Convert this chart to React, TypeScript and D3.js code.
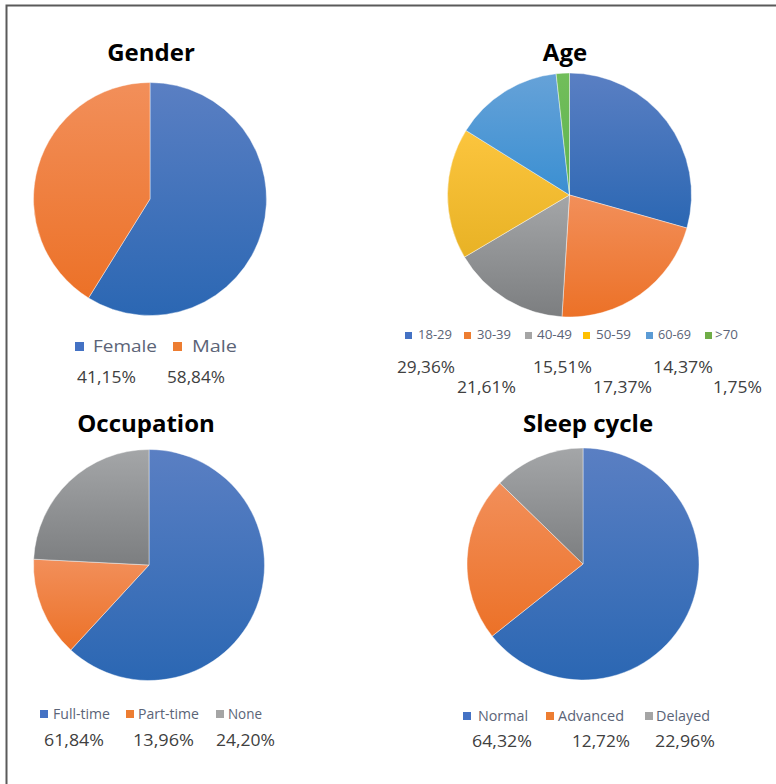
import React from "react";
import * as d3 from "d3";

// ---- data ----
const genderLabels = ["Female", "Male"];
const genderShares = [58.84, 41.15];
const genderCaptionOrder = [1, 0];

const ageLabels = ["18-29", "30-39", "40-49", "50-59", "60-69", ">70"];
const ageShares = [29.36, 21.61, 15.51, 17.37, 14.37, 1.75];
const ageCaptionOrder = [0, 1, 2, 3, 4, 5];

const occupationLabels = ["Full-time", "Part-time", "None"];
const occupationShares = [61.84, 13.96, 24.2];
const occupationCaptionOrder = [0, 1, 2];

const sleepLabels = ["Normal", "Advanced", "Delayed"];
const sleepShares = [64.32, 22.96, 12.72];
const sleepCaptionOrder = [0, 2, 1];

// ---- palette (flat legend colour, gradient top, gradient bottom) ----
type Swatch = { key: string; flat: string; top: string; bottom: string };
const palette: Swatch[] = [
  { key: "blue", flat: "#4472C4", top: "#5A7FC3", bottom: "#2B67B3" },
  { key: "orange", flat: "#ED7D31", top: "#F28F5A", bottom: "#EC7127" },
  { key: "gray", flat: "#A5A5A5", top: "#A4A6A8", bottom: "#7C7E80" },
  { key: "yellow", flat: "#FFC000", top: "#FCC53E", bottom: "#E8B225" },
  { key: "lightblue", flat: "#5B9BD5", top: "#66A2D8", bottom: "#3A8FD2" },
  { key: "green", flat: "#70AD47", top: "#72BE5B", bottom: "#5DB34E" },
];

const fmt = (v: number) => v.toFixed(2).replace(".", ",") + "%";

type LegendItem = { sx: number; tx: number; tw: number };
type Caption = { x: number; y: number; w: number };

type PanelProps = {
  title: string;
  titleX: number;
  titleY: number;
  cx: number;
  cy: number;
  r: number;
  labels: string[];
  shares: number[];
  captionOrder: number[];
  legend: LegendItem[];
  legendY: number;
  legendSize: number;
  square: number;
  captions: Caption[];
};

const legendColor = "#5B6477";
const captionColor = "#404040";
const font = "'Open Sans', 'Noto Sans', sans-serif";

function PiePanel(p: PanelProps) {
  const pie = d3
    .pie<number>()
    .sort(null)
    .value((d) => d)
    .startAngle(0)
    .endAngle(2 * Math.PI);
  const arc = d3.arc<d3.PieArcDatum<number>>().innerRadius(0).outerRadius(p.r);
  const arcs = pie(p.shares);
  return (
    <g>
      <text
        x={p.titleX}
        y={p.titleY}
        textAnchor="middle"
        fontFamily={font}
        fontWeight={700}
        fontSize={24}
        fill="#000"
      >
        {p.title}
      </text>
      <g transform={`translate(${p.cx},${p.cy})`}>
        {arcs.map((a, i) => (
          <path
            key={i}
            d={arc(a) || ""}
            fill={`url(#grad-${palette[i].key})`}
            stroke="#ffffff"
            strokeWidth={0.7}
            strokeOpacity={0.6}
          />
        ))}
      </g>
      {p.labels.map((lab, i) => (
        <g key={lab}>
          <rect
            x={p.legend[i].sx}
            y={p.legendY - p.square - (p.legendSize > 14 ? 1 : 0)}
            width={p.square}
            height={p.square}
            fill={palette[i].flat}
          />
          <text
            x={p.legend[i].tx}
            y={p.legendY}
            fontFamily={font}
            fontSize={p.legendSize}
            fill={legendColor}
            textLength={p.legend[i].tw}
            lengthAdjust="spacingAndGlyphs"
          >
            {lab}
          </text>
        </g>
      ))}
      {p.captionOrder.map((idx, j) => (
        <text
          key={j}
          x={p.captions[j].x}
          y={p.captions[j].y}
          fontFamily={font}
          fontSize={17}
          fill={captionColor}
          textLength={p.captions[j].w}
          lengthAdjust="spacingAndGlyphs"
        >
          {fmt(p.shares[idx])}
        </text>
      ))}
    </g>
  );
}

export default function App() {
  return (
    <svg
      width={776}
      height={784}
      viewBox="0 0 776 784"
      style={{ position: "absolute", left: 0, top: 0, background: "#fff" }}
    >
      <defs>
        {palette.map((s) => (
          <linearGradient key={s.key} id={`grad-${s.key}`} x1="0" y1="0" x2="0" y2="1">
            <stop offset="0%" stopColor={s.top} />
            <stop offset="100%" stopColor={s.bottom} />
          </linearGradient>
        ))}
      </defs>
      <rect x={0} y={0} width={776} height={784} fill="#fff" />
      <path d="M6.5,784 V5.5 H776" fill="none" stroke="#5A5A5A" strokeWidth={2} />

      <PiePanel
        title="Gender"
        titleX={151}
        titleY={61}
        cx={150}
        cy={199}
        r={116.5}
        labels={genderLabels}
        shares={genderShares}
        captionOrder={genderCaptionOrder}
        legend={[
          { sx: 75, tx: 93, tw: 64 },
          { sx: 173, tx: 192, tw: 45 },
        ]}
        legendY={352}
        legendSize={17}
        square={9}
        captions={[
          { x: 77, y: 383, w: 59 },
          { x: 167, y: 383, w: 58 },
        ]}
      />

      <PiePanel
        title="Age"
        titleX={565}
        titleY={61}
        cx={569.5}
        cy={195}
        r={122}
        labels={ageLabels}
        shares={ageShares}
        captionOrder={ageCaptionOrder}
        legend={[
          { sx: 405, tx: 418, tw: 34 },
          { sx: 464, tx: 477, tw: 34 },
          { sx: 525, tx: 537, tw: 35 },
          { sx: 583, tx: 596, tw: 35 },
          { sx: 646, tx: 658, tw: 33 },
          { sx: 705, tx: 715, tw: 23 },
        ]}
        legendY={339}
        legendSize={13}
        square={7}
        captions={[
          { x: 397, y: 373, w: 58 },
          { x: 457, y: 393, w: 59 },
          { x: 533, y: 373, w: 59 },
          { x: 593, y: 393, w: 59 },
          { x: 653, y: 373, w: 60 },
          { x: 713, y: 393, w: 49 },
        ]}
      />

      <PiePanel
        title="Occupation"
        titleX={146}
        titleY={432}
        cx={149}
        cy={565}
        r={115.5}
        labels={occupationLabels}
        shares={occupationShares}
        captionOrder={occupationCaptionOrder}
        legend={[
          { sx: 40, tx: 53, tw: 57 },
          { sx: 126, tx: 138, tw: 61 },
          { sx: 216, tx: 228, tw: 34 },
        ]}
        legendY={719}
        legendSize={15}
        square={8}
        captions={[
          { x: 44, y: 746, w: 60 },
          { x: 133, y: 746, w: 61 },
          { x: 216, y: 746, w: 59 },
        ]}
      />

      <PiePanel
        title="Sleep cycle"
        titleX={588}
        titleY={432}
        cx={583}
        cy={564}
        r={116}
        labels={sleepLabels}
        shares={sleepShares}
        captionOrder={sleepCaptionOrder}
        legend={[
          { sx: 463, tx: 478, tw: 50 },
          { sx: 546, tx: 558, tw: 66 },
          { sx: 645, tx: 656, tw: 54 },
        ]}
        legendY={721}
        legendSize={15}
        square={8}
        captions={[
          { x: 472, y: 747, w: 60 },
          { x: 572, y: 747, w: 58 },
          { x: 655, y: 747, w: 60 },
        ]}
      />
    </svg>
  );
}
